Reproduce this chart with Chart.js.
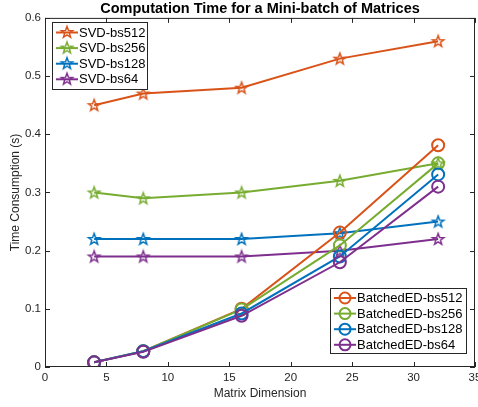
<!DOCTYPE html>
<html lang="en">
<head>
  <meta charset="UTF-8" />
  <title>Computation Time for a Mini-batch of Matrices</title>
  <script src="https://cdn.jsdelivr.net/npm/chart.js"></script>
  <style>
    html, body { margin: 0; padding: 0; background: #fff; }
    #wrap { width: 478px; height: 407px; }
  </style>
</head>
<body>
  <div id="wrap"><canvas id="chart"></canvas></div>
  <script>
    // data
    const dims = [4, 8, 16, 24, 32];
    const svdLabels = ['SVD-bs512', 'SVD-bs256', 'SVD-bs128', 'SVD-bs64'];
    const edLabels = ['BatchedED-bs512', 'BatchedED-bs256', 'BatchedED-bs128', 'BatchedED-bs64'];
    const svd512 = [0.45, 0.47, 0.48, 0.53, 0.56];
    const svd256 = [0.30, 0.29, 0.30, 0.32, 0.35];
    const svd128 = [0.22, 0.22, 0.22, 0.23, 0.25];
    const svd64  = [0.19, 0.19, 0.19, 0.20, 0.22];
    const ed512 = [0.008, 0.027, 0.100, 0.231, 0.381];
    const ed256 = [0.008, 0.027, 0.099, 0.209, 0.350];
    const ed128 = [0.008, 0.027, 0.092, 0.190, 0.331];
    const ed64  = [0.008, 0.026, 0.088, 0.180, 0.310];
    const xTicks = [0, 5, 10, 15, 20, 25, 30, 35];
    const yTicks = [0, 0.1, 0.2, 0.3, 0.4, 0.5, 0.6];

    const colors = ['#D95319', '#77AC30', '#0072BD', '#7E2F8E'];
    const FONT = '"Liberation Sans", Arial, Helvetica, sans-serif';
    const AXIS = '#262626';

    // hollow pentagram marker like matlab's 'p'
    function makeStar(color) {
      const c = document.createElement('canvas');
      c.width = 16; c.height = 16;
      const g = c.getContext('2d');
      g.strokeStyle = color;
      g.lineWidth = 1.5;
      g.beginPath();
      for (let i = 0; i < 10; i++) {
        const a = -Math.PI / 2 + i * Math.PI / 5;
        const r = i % 2 ? 2.5 : 6.0;
        const px = 8 + r * Math.cos(a), py = 8.5 + r * Math.sin(a);
        if (i === 0) g.moveTo(px, py); else g.lineTo(px, py);
      }
      g.closePath();
      g.stroke();
      return c;
    }
    const stars = colors.map(makeStar);

    const toPts = arr => arr.map((v, i) => ({ x: dims[i], y: v }));
    const svdSeries = [svd512, svd256, svd128, svd64];
    const edSeries = [ed512, ed256, ed128, ed64];

    const datasets = [];
    svdSeries.forEach((s, i) => datasets.push({
      label: svdLabels[i], data: toPts(s), kind: 'star',
      borderColor: colors[i], backgroundColor: colors[i], borderWidth: 2,
      pointStyle: stars[i], pointRadius: 6, pointHoverRadius: 6
    }));
    edSeries.forEach((s, i) => datasets.push({
      label: edLabels[i], data: toPts(s), kind: 'circle',
      borderColor: colors[i], backgroundColor: 'rgba(0,0,0,0)', borderWidth: 2,
      pointStyle: 'circle', pointRadius: 6, pointBorderWidth: 2, pointHoverRadius: 6
    }));
    datasets.forEach((d, i) => { d.order = datasets.length - i; d.tension = 0; });

    // box, inward ticks, and the two legends
    const matlabAxes = {
      id: 'matlabAxes',
      afterDraw(chart) {
        const ctx = chart.ctx, a = chart.chartArea;
        const xs = chart.scales.x, ys = chart.scales.y;
        const tl = 5;
        ctx.save();
        ctx.strokeStyle = AXIS;
        ctx.lineWidth = 1;
        ctx.strokeRect(a.left + 0.5, a.top + 0.5, a.right - a.left - 1, a.bottom - a.top - 1);
        ctx.beginPath();
        xTicks.forEach(v => {
          const px = Math.round(xs.getPixelForValue(v)) + 0.5;
          ctx.moveTo(px, a.bottom); ctx.lineTo(px, a.bottom - tl);
          ctx.moveTo(px, a.top); ctx.lineTo(px, a.top + tl);
        });
        yTicks.forEach(v => {
          const py = Math.round(ys.getPixelForValue(v)) + 0.5;
          ctx.moveTo(a.left, py); ctx.lineTo(a.left + tl, py);
          ctx.moveTo(a.right, py); ctx.lineTo(a.right - tl, py);
        });
        ctx.stroke();

        const drawLegend = (box, items) => {
          ctx.fillStyle = '#fff';
          ctx.fillRect(box.x, box.y, box.w, box.h);
          ctx.strokeStyle = AXIS;
          ctx.lineWidth = 1;
          ctx.strokeRect(box.x + 0.5, box.y + 0.5, box.w, box.h);
          ctx.font = '13px ' + FONT;
          ctx.textBaseline = 'middle';
          items.forEach((d, i) => {
            const cy = box.y + box.first + i * box.gap;
            const x0 = box.x + 4, x1 = box.x + 26, mx = (x0 + x1) / 2;
            ctx.strokeStyle = d.borderColor;
            ctx.lineWidth = 2;
            ctx.beginPath(); ctx.moveTo(x0, cy); ctx.lineTo(x1, cy); ctx.stroke();
            if (d.kind === 'star') {
              ctx.drawImage(d.pointStyle, mx - 8, cy - 8.5);
            } else {
              ctx.beginPath(); ctx.arc(mx, cy, 5.5, 0, Math.PI * 2); ctx.stroke();
            }
            ctx.fillStyle = '#000';
            ctx.fillText(d.label, x1 + 1, cy + 0.5);
          });
        };
        const ds = chart.data.datasets;
        drawLegend({ x: 52, y: 22, w: 95, h: 67, first: 10.5, gap: 15.6 }, ds.slice(0, 4));
        drawLegend({ x: 330, y: 288, w: 136, h: 65, first: 10, gap: 15.6 }, ds.slice(4, 8));
        ctx.restore();
      }
    };

    const fixPad = s => { s.paddingLeft = 0; s.paddingRight = 0; s.paddingTop = 0; s.paddingBottom = 0; };

    new Chart(document.getElementById('chart'), {
      type: 'line',
      data: { datasets },
      options: {
        responsive: true,
        maintainAspectRatio: false,
        animation: false,
        events: [],
        layout: { autoPadding: false, padding: { left: 0, right: 3, top: 0, bottom: 0 } },
        plugins: {
          legend: { display: false },
          tooltip: { enabled: false },
          title: {
            display: true,
            fullSize: false,
            text: 'Computation Time for a Mini-batch of Matrices',
            color: '#000',
            font: { family: FONT, size: 14.5, weight: 'bold' },
            padding: { top: 0.5, bottom: 0 }
          }
        },
        scales: {
          x: {
            type: 'linear', min: 0, max: 35,
            afterBuildTicks: s => { s.ticks = xTicks.map(v => ({ value: v })); },
            afterFit: s => { s.height = 40; fixPad(s); },
            grid: { display: false, drawTicks: false },
            border: { display: false },
            ticks: { color: AXIS, padding: 4, maxRotation: 0, font: { family: FONT, size: 11.5 } },
            title: {
              display: true, text: 'Matrix Dimension', color: AXIS,
              font: { family: FONT, size: 12 }, padding: { top: 1, bottom: 6 }
            }
          },
          y: {
            type: 'linear', min: 0, max: 0.6,
            afterBuildTicks: s => { s.ticks = yTicks.map(v => ({ value: v })); },
            afterFit: s => { s.width = 45; fixPad(s); },
            grid: { display: false, drawTicks: false },
            border: { display: false },
            ticks: { color: AXIS, padding: 4, font: { family: FONT, size: 11.5 } },
            title: {
              display: true, text: 'Time Consumption (s)', color: AXIS,
              font: { family: FONT, size: 12 }, padding: { top: 8, bottom: 0 }
            }
          }
        }
      },
      plugins: [matlabAxes]
    });
  </script>
</body>
</html>
